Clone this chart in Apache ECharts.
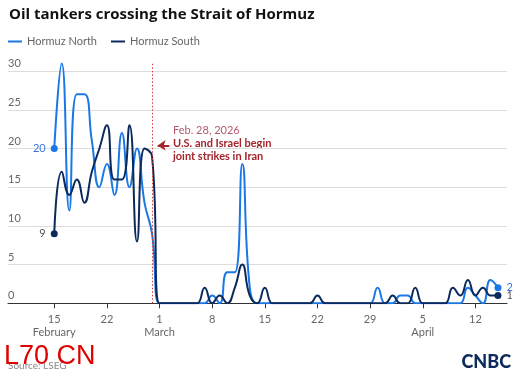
<!DOCTYPE html>
<html>
<head>
<meta charset="utf-8">
<script src="https://cdn.jsdelivr.net/npm/echarts@6/dist/echarts.min.js"></script>
<style>
  html, body { margin: 0; padding: 0; background: #fff; }
  #chart { width: 519px; height: 378px; }
</style>
</head>
<body>
<div id="chart"></div>
<script>
// day 0 = Feb 15, day 59 = Apr 15
const northValues = [
  20, 31, 12, 27, 27, 21, 15, 18, 14, 22, 15, 20, 13, 9,           // Feb 15-28
  0, 0, 0, 0, 0, 0, 0, 1, 0, 4, 4, 18, 2, 0, 0,                   // Mar 1-15
  0, 0, 0, 0, 0, 0, 0, 0, 0, 0, 0, 0, 0, 0, 2, 0,                 // Mar 16-31
  0, 1, 1, 0, 0, 0, 0, 0, 0, 0, 2, 1, 0, 3, 2                     // Apr 1-15
];
const southValues = [
  9, 17, 14, 16, 13, 17, 20, 23, 16, 16, 23, 8, 20, 19,           // Feb 15-28
  0, 0, 0, 0, 0, 0, 2, 0, 1, 0, 2, 5, 1, 0, 2,                    // Mar 1-15
  0, 0, 0, 0, 0, 0, 1, 0, 0, 0, 0, 0, 0, 0, 0, 0,                 // Mar 16-31
  1, 0, 0, 2, 0, 0, 0, 0, 2, 1, 3, 1, 2, 1, 1                     // Apr 1-15
];
const tickDays = [0, 7, 14, 21, 28, 35, 42, 49, 56];
const tickLabels = ['15', '22', '1', '8', '15', '22', '29', '5', '12'];
const monthLabels = ['February', '', 'March', '', '', '', '', 'April', ''];
const strikeDay = 13; // Feb 28

const font = 'Lato, "Open Sans", sans-serif';
const northColor = '#1a78e6';
const southColor = '#0b2a5b';

function buildData(values, labelColor) {
  const last = values.length - 1;
  return values.map((v, i) => {
    if (i === 0 || i === last) {
      return {
        value: [i, v],
        symbol: 'circle',
        symbolSize: 7,
        label: {
          show: true,
          position: i === 0 ? 'left' : 'right',
          distance: 5,
          color: labelColor,
          fontSize: 11,
          fontFamily: font
        }
      };
    }
    return { value: [i, v] };
  });
}

const chart = echarts.init(document.getElementById('chart'));
chart.setOption({
  animation: false,
  backgroundColor: '#fff',
  title: {
    text: 'Oil tankers crossing the Strait of Hormuz',
    left: 4,
    top: 2,
    textStyle: { fontFamily: '"Open Sans", sans-serif', fontWeight: 'bold', fontSize: 15, color: '#111' }
  },
  legend: {
    left: 8,
    top: 36,
    padding: 0,
    icon: 'rect',
    itemWidth: 14,
    itemHeight: 2,
    itemGap: 14,
    textStyle: { fontFamily: font, fontSize: 11, color: '#666' },
    data: ['Hormuz North', 'Hormuz South']
  },
  grid: { left: 8, right: 12, top: 63.4, bottom: 74.7 },
  xAxis: {
    type: 'value',
    min: -6.15,
    max: 60.2,
    splitLine: { show: false },
    axisLine: { lineStyle: { color: '#333', width: 1 } },
    axisTick: { show: true, length: 5, customValues: tickDays, lineStyle: { color: '#333' } },
    axisLabel: {
      customValues: tickDays,
      formatter: v => {
        const i = tickDays.indexOf(v);
        return tickLabels[i] + '\n' + monthLabels[i];
      },
      color: '#666',
      fontSize: 11,
      lineHeight: 13,
      margin: 10,
      fontFamily: font
    }
  },
  yAxis: {
    type: 'value',
    min: 0,
    max: 31,
    interval: 5,
    axisLine: { show: false },
    axisTick: { show: false },
    splitLine: { lineStyle: { color: '#ddd' }, showMaxLine: false },
    axisLabel: {
      inside: true,
      margin: 0,
      verticalAlign: 'bottom',
      padding: [0, 0, 2, 0],
      color: '#666',
      fontSize: 11,
      fontFamily: font,
      showMaxLabel: false
    }
  },
  series: [
    {
      name: 'Hormuz North',
      type: 'line',
      smooth: 0.5,
      symbol: 'none',
      showSymbol: true,
      color: northColor,
      lineStyle: { width: 2, color: northColor },
      data: buildData(northValues, '#3a74dc'),
      z: 3,
      markLine: {
        silent: true,
        symbol: 'none',
        label: { show: false },
        lineStyle: { type: [1.5, 2], color: '#d23a3a', width: 1 },
        data: [{ xAxis: strikeDay }]
      }
    },
    {
      name: 'Hormuz South',
      type: 'line',
      smooth: 0.5,
      symbol: 'none',
      showSymbol: true,
      color: southColor,
      lineStyle: { width: 2, color: southColor },
      data: buildData(southValues, '#555'),
      z: 4,
      markLine: {
        silent: true,
        symbol: ['none', 'arrow'],
        symbolSize: 8,
        label: { show: false },
        lineStyle: { type: 'solid', color: '#a3252b', width: 2 },
        data: [[{ coord: [15.3, 20.4] }, { coord: [13.75, 20.4] }]]
      }
    }
  ],
  graphic: [
    { type: 'text', left: 173, top: 125, style: { text: 'Feb. 28, 2026', fill: '#b65a6b', font: '11px ' + font } },
    { type: 'text', left: 173, top: 138, style: { text: 'U.S. and Israel begin', fill: '#a3252b', font: 'bold 11px ' + font } },
    { type: 'text', left: 173, top: 151, style: { text: 'joint strikes in Iran', fill: '#a3252b', font: 'bold 11px ' + font } },
    { type: 'text', left: 8, top: 361, style: { text: 'Source: LSEG', fill: '#888', font: '10px ' + font } },
    { type: 'text', left: 4, top: 343, style: { text: 'L70 CN', fill: '#e00000', font: '27px "Liberation Sans", Arial, sans-serif' } },
    { type: 'text', right: 8, top: 353, style: { text: 'CNBC', fill: '#0c2a5b', font: '900 18px ' + font } }
  ]
});
</script>
</body>
</html>
